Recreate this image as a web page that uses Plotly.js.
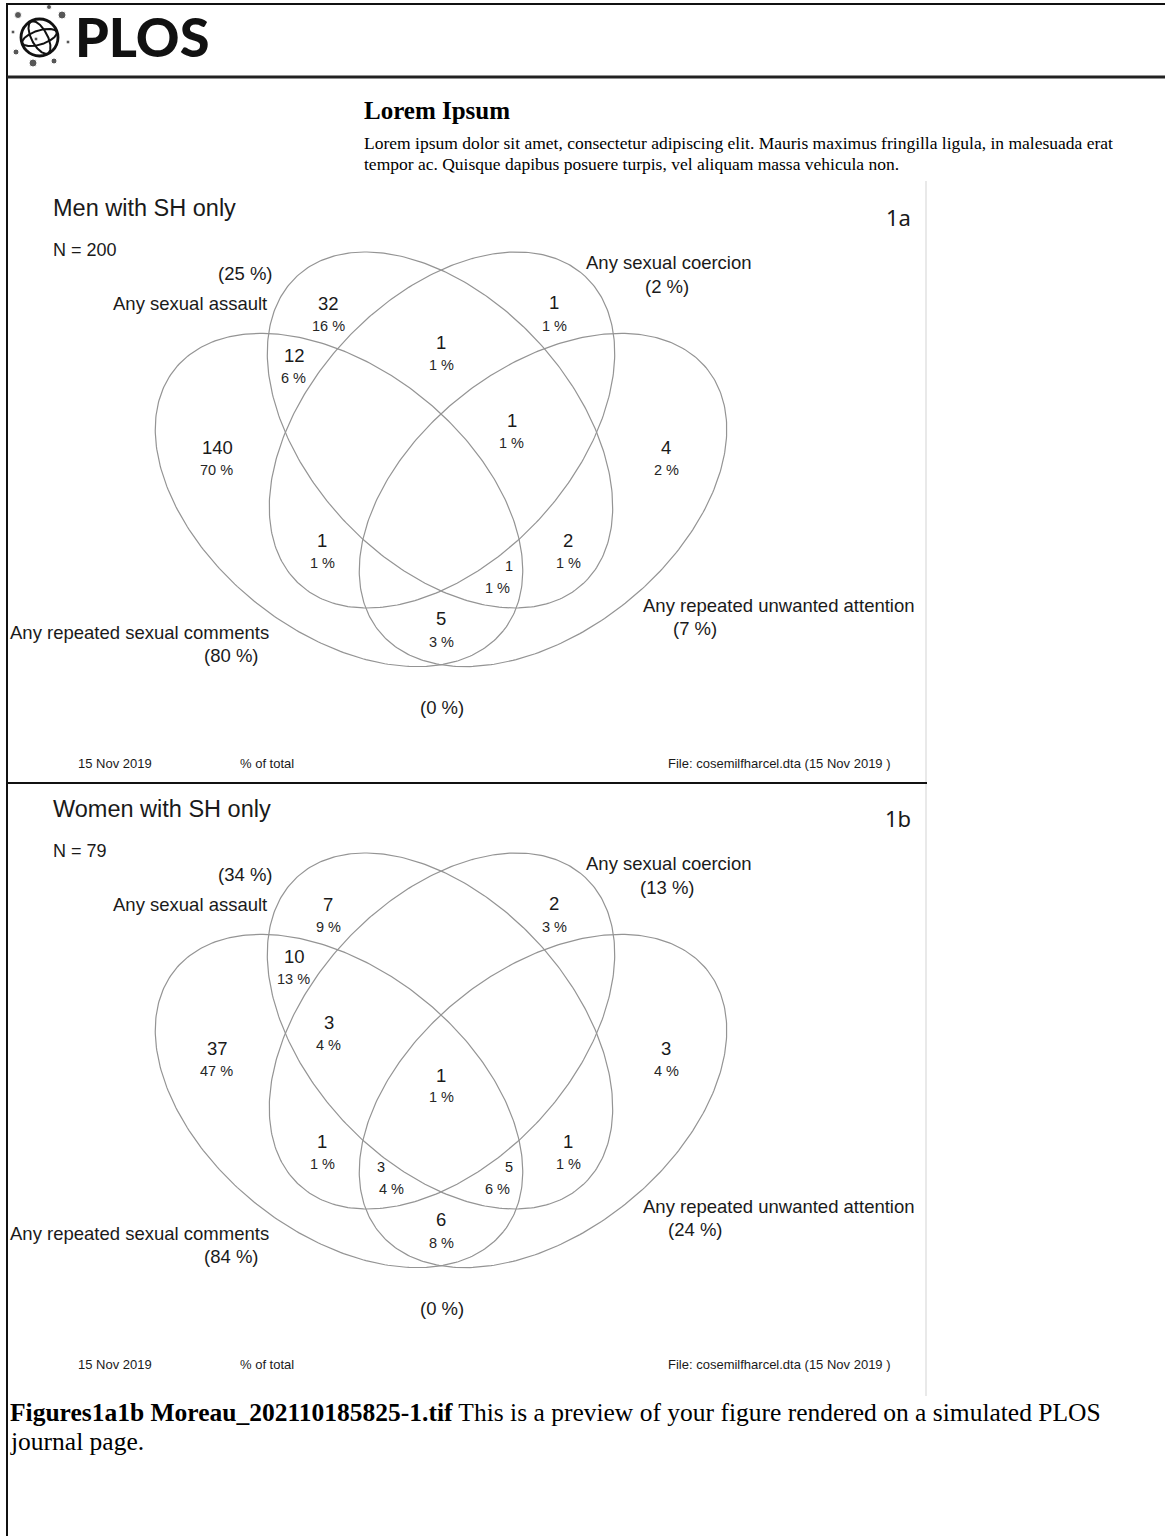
<!DOCTYPE html>
<html>
<head>
<meta charset="utf-8">
<script src="https://cdn.plot.ly/plotly-3.0.1.min.js"></script>
<style>
  html, body { margin: 0; padding: 0; background: #ffffff; }
  #chart { width: 1165px; height: 1536px; }
</style>
</head>
<body>
<div id="chart"></div>
<script>
// ===================== DATA =====================
const panelTitles = ['Men with SH only', 'Women with SH only'];
const panelTags = ['1a', '1b'];
const totalN = [200, 79];
const setNames = ['Any repeated sexual comments', 'Any sexual assault', 'Any sexual coercion', 'Any repeated unwanted attention'];
const setPctMen = [80, 25, 2, 7];
const setPctWomen = [84, 34, 13, 24];
const outsidePct = [0, 0];
// region keys: A = comments, B = assault, C = coercion, D = unwanted attention
const regionKeys = ['A', 'B', 'C', 'D', 'AB', 'BC', 'AC', 'BD', 'AD', 'ABC', 'BCD', 'ACD', 'ABD', 'ABCD'];
const countsMen   = [140, 32, 1, 4, 12, 1, 1, 2, 5, null, 1, null, 1, null];
const pctMen      = [70, 16, 1, 2, 6, 1, 1, 1, 3, null, 1, null, 1, null];
const countsWomen = [37, 7, 2, 3, 10, null, 1, 1, 6, 3, null, 3, 5, 1];
const pctWomen    = [47, 9, 3, 4, 13, null, 1, 1, 8, 4, null, 4, 6, 1];
const footerDate = '15 Nov 2019';
const footerMid = '% of total';
const footerFile = 'File: cosemilfharcel.dta (15 Nov 2019 )';
const headerTitle = 'Lorem Ipsum';
const headerLines = ['Lorem ipsum dolor sit amet, consectetur adipiscing elit. Mauris maximus fringilla ligula, in malesuada erat',
                     'tempor ac. Quisque dapibus posuere turpis, vel aliquam massa vehicula non.'];
const captionBold = 'Figures1a1b Moreau_202110185825-1.tif';
const captionLines = [' This is a preview of your figure rendered on a simulated PLOS', 'journal page.'];

// ===================== LAYOUT (positions in page pixels, panel 1a) =====================
const panelOffsetY = [0, 601];
const ellipses = [ // cx, cy, semi-major, semi-minor, angle (deg, screen)
  {cx: 339, cy: 500, a: 210, b: 132, ang: 38.5},
  {cx: 440, cy: 430, a: 210, b: 132, ang: 47},
  {cx: 442, cy: 430, a: 210, b: 132, ang: -47},
  {cx: 543, cy: 500, a: 210, b: 132, ang: -38.5}
];
const regionPos = { // [countX, countY, pctX, pctY, small]
  A: [217, 447, 216, 470, 0], B: [328, 303, 328, 326, 0], C: [554, 302, 554, 326, 0], D: [666, 447, 666, 470, 0],
  AB: [294, 355, 293, 378, 0], BC: [441, 342, 441, 365, 0], AC: [322, 540, 322, 563, 0], BD: [568, 540, 568, 563, 0],
  AD: [441, 618, 441, 642, 0], ABC: [329, 421, 328, 444, 0], BCD: [512, 420, 511, 443, 0],
  ACD: [381, 566, 391, 588, 1], ABD: [509, 566, 497, 588, 1], ABCD: [441, 474, 441, 496, 0]
};
const SANS = 'Liberation Sans, Arial, sans-serif';
const SERIF = 'Liberation Serif, Times New Roman, serif';
const TXT = '#1a1a1a';

const traces = [];
const annotations = [];
const shapes = [];

function ellipsePts(e, dy) {
  const xs = [], ys = [];
  const th = e.ang * Math.PI / 180;
  const n = 360;
  for (let i = 0; i <= n; i++) {
    const t = 2 * Math.PI * i / n;
    xs.push(e.cx + e.a * Math.cos(t) * Math.cos(th) - e.b * Math.sin(t) * Math.sin(th));
    ys.push(e.cy + dy + e.a * Math.cos(t) * Math.sin(th) + e.b * Math.sin(t) * Math.cos(th));
  }
  return {xs, ys};
}

function txt(x, y, text, size, opts) {
  annotations.push(Object.assign({
    x: x, y: y, xref: 'x', yref: 'y', text: text, showarrow: false,
    xanchor: 'center', yanchor: 'middle',
    font: {family: SANS, size: size, color: TXT}
  }, opts || {}));
}

[0, 1].forEach(p => {
  const dy = panelOffsetY[p];
  ellipses.forEach((e, k) => {
    const pts = ellipsePts(e, dy);
    traces.push({x: pts.xs, y: pts.ys, mode: 'lines', type: 'scatter', hoverinfo: 'skip',
                 name: setNames[k], line: {color: '#949494', width: 1.2}});
  });
  const counts = p === 0 ? countsMen : countsWomen;
  const pcts = p === 0 ? pctMen : pctWomen;
  const setPct = p === 0 ? setPctMen : setPctWomen;
  regionKeys.forEach((key, i) => {
    if (counts[i] === null) return;
    const pos = regionPos[key];
    txt(pos[0], pos[1] + dy, String(counts[i]), pos[4] ? 14.5 : 18.5);
    txt(pos[2], pos[3] + dy, pcts[i] + ' %', 14.5, {font: {family: SANS, size: 14.5, color: '#262626'}});
  });
  // panel title, N, tag
  txt(51, 208 + dy, panelTitles[p], 23.5, {xanchor: 'left'});
  txt(51, 250 + dy, 'N = ' + totalN[p], 18, {xanchor: 'left'});
  txt(898, 217 + dy, panelTags[p], 22, {font: {family: 'Noto Sans, DejaVu Sans, sans-serif', size: 22, color: TXT}});
  // set labels
  txt(271, 632 + dy, setNames[0], 18.5, {xanchor: 'right'});
  txt(231, 655 + dy, '(' + setPct[0] + ' %)', 18.5);
  txt(269, 303 + dy, setNames[1], 18.5, {xanchor: 'right'});
  txt(245, 273 + dy, '(' + setPct[1] + ' %)', 18.5);
  txt(669, 262 + dy, setNames[2], 18.5);
  txt(667, 286 + dy, '(' + setPct[2] + ' %)', 18.5);
  txt(779, 605 + dy, setNames[3], 18.5);
  txt(695, 628 + dy, '(' + setPct[3] + ' %)', 18.5);
  txt(442, 707 + dy, '(' + outsidePct[p] + ' %)', 18.5);
  // footer
  txt(115, 763 + dy, footerDate, 13);
  txt(267, 763 + dy, footerMid, 13);
  txt(779, 763 + dy, footerFile, 13);
});

// ===================== PAGE DECORATION =====================
shapes.push({type: 'line', xref: 'x', yref: 'y', x0: 7, x1: 1165, y0: 4, y1: 4, line: {color: '#111', width: 2}});
shapes.push({type: 'line', xref: 'x', yref: 'y', x0: 7, x1: 7, y0: 3, y1: 1536, line: {color: '#111', width: 2}});
shapes.push({type: 'line', xref: 'x', yref: 'y', x0: 7, x1: 1165, y0: 77, y1: 77, line: {color: '#222', width: 3}});
shapes.push({type: 'line', xref: 'x', yref: 'y', x0: 926, x1: 926, y0: 181, y1: 1396, line: {color: '#e2e2e2', width: 1.5}});
shapes.push({type: 'line', xref: 'x', yref: 'y', x0: 8, x1: 927, y0: 783, y1: 783, line: {color: '#111', width: 2}});
// logo globe
shapes.push({type: 'circle', xref: 'x', yref: 'y', x0: 21, x1: 58, y0: 19, y1: 56, line: {color: '#111', width: 2.8}});
const orbit = [{cx: 39.5, cy: 37.5, a: 18, b: 8, ang: 62}, {cx: 39.5, cy: 37.5, a: 18, b: 7, ang: -18}];
orbit.forEach(o => {
  const pts = ellipsePts(o, 0);
  traces.push({x: pts.xs, y: pts.ys, mode: 'lines', type: 'scatter', hoverinfo: 'skip', line: {color: '#111', width: 2}});
});
traces.push({x: [18, 49, 62, 13, 68, 16, 33, 54, 36], y: [15, 7, 15, 32, 42, 52, 63, 61, 39], mode: 'markers', type: 'scatter',
             hoverinfo: 'skip', marker: {color: '#111', size: [7, 5, 8, 4, 4, 6, 8, 6, 4]}});
txt(73, 36, 'PLOS', 54, {xanchor: 'left', font: {family: 'Lato, Open Sans, sans-serif', size: 54, color: '#111', weight: 900}});

// header text
txt(362, 110, '<b>' + headerTitle + '</b>', 25, {xanchor: 'left', font: {family: SERIF, size: 25, color: '#000'}});
txt(362, 143, headerLines[0], 17.5, {xanchor: 'left', font: {family: SERIF, size: 17.5, color: '#000'}});
txt(362, 164, headerLines[1], 17.5, {xanchor: 'left', font: {family: SERIF, size: 17.5, color: '#000'}});
// caption
txt(8, 1412, '<b>' + captionBold + '</b>' + captionLines[0], 25.5, {xanchor: 'left', font: {family: SERIF, size: 25.5, color: '#000'}});
txt(8, 1441, captionLines[1], 25.5, {xanchor: 'left', font: {family: SERIF, size: 25.5, color: '#000'}});

const layout = {
  width: 1165, height: 1536,
  margin: {l: 0, r: 0, t: 0, b: 0},
  paper_bgcolor: '#ffffff', plot_bgcolor: '#ffffff',
  showlegend: false,
  xaxis: {range: [0, 1165], visible: false, fixedrange: true},
  yaxis: {range: [1536, 0], visible: false, fixedrange: true},
  annotations: annotations,
  shapes: shapes
};
Plotly.newPlot('chart', traces, layout, {staticPlot: true, displayModeBar: false});
</script>
</body>
</html>
